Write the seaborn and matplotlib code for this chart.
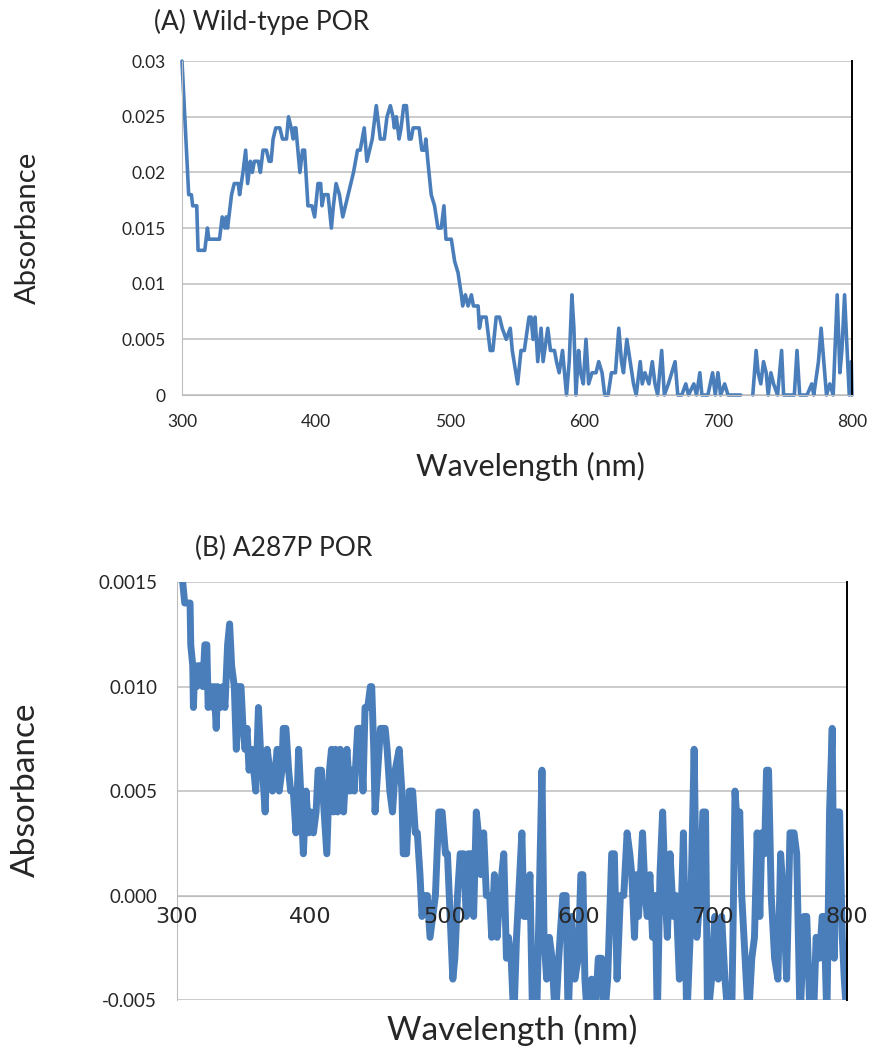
import numpy as np
import pandas as pd
import seaborn as sns
import matplotlib.pyplot as plt

BLUE = '#4a7ebb'
GRID = '#bdbdbd'

# (A) Wild-type POR: wavelength (nm) and absorbance, None = no reading
wl_a = [300, 305, 307, 308, 311, 312, 317, 319, 320, 328, 330, 332, 333, 334, 337, 339,
        342, 343, 345.5, 347.5, 349, 351, 352.5, 354, 357, 358.5, 360.5, 363, 365, 366.5,
        368, 370, 373, 375, 378, 379.5, 381.5, 383, 384, 385, 386.5, 388, 390, 391.5, 394,
        397, 399, 401.5, 403.5, 404.5, 406, 409, 411.5, 413, 415, 417.5, 420, 422, 424,
        426, 428, 429.5, 431, 433, 434.5, 436, 438, 440, 442, 443, 445, 446, 448, 451,
        453, 455.5, 457.5, 458.5, 460, 461, 462, 463.5, 465.5, 467.5, 469.5, 471, 472.5,
        477, 479, 481, 482, 483.5, 486, 488.5, 491, 493.5, 495.5, 497, 501, 503.5, 506,
        508.5, 509.5, 511.5, 513.5, 516, 517.5, 521, 522, 523.5, 527, 530, 532, 534.5,
        537, 539, 542, 545, 546.5, 550.5, 553, 555.5, 559, 560.5, 562, 563.5, 565.5, 568,
        569.5, 573, 575, 578, 579.5, 581.5, 584, 587, 589, 591, 592.5, 594, 596, 597.5,
        599.5, 601.5, 603.5, 606, 609, 611, 613.5, 615.5, 618, 620.5, 623.5, 626, 628,
        629.5, 632, 634.5, 637, 639, 642, 643.5, 645.5, 648.5, 651, 653, 655, 658, 660,
        663, 665.5, 668, 670, 673, 676, 678, 682, 684, 686.5, 688, 692.5, 696, 698, 700,
        702, 705, 707.5, 712, 717, 721, 726, 728.5, 730, 732, 734, 736, 737.5, 739.5,
        741.5, 744.5, 747.5, 749, 753, 757, 759, 761, 766.5, 770, 771.5, 775, 777, 779,
        781, 783.5, 786, 789, 791, 792.5, 794.5, 796, 798, 799.5, 800]
abs_a = [0.030, 0.018, 0.018, 0.017, 0.017, 0.013, 0.013, 0.015, 0.014, 0.014, 0.016,
         0.015, 0.016, 0.015, 0.018, 0.019, 0.019, 0.018, 0.020, 0.022, 0.019, 0.021,
         0.020, 0.021, 0.021, 0.020, 0.022, 0.022, 0.021, 0.021, 0.023, 0.024, 0.024,
         0.023, 0.023, 0.025, 0.024, 0.023, 0.024, 0.024, 0.022, 0.020, 0.022, 0.022,
         0.017, 0.017, 0.016, 0.019, 0.019, 0.017, 0.018, 0.018, 0.015, 0.017, 0.019,
         0.018, 0.016, 0.017, 0.018, 0.019, 0.020, 0.021, 0.022, 0.022, 0.023, 0.024,
         0.021, 0.022, 0.023, 0.024, 0.026, 0.025, 0.023, 0.023, 0.025, 0.026, 0.025,
         0.024, 0.025, 0.024, 0.023, 0.024, 0.026, 0.026, 0.023, 0.023, 0.024, 0.024,
         0.022, 0.022, 0.023, 0.021, 0.018, 0.017, 0.015, 0.015, 0.017, 0.014, 0.014,
         0.012, 0.011, 0.009, 0.008, 0.009, 0.008, 0.009, 0.008, 0.008, 0.006, 0.007,
         0.007, 0.004, 0.004, 0.007, 0.007, 0.006, 0.005, 0.006, 0.004, 0.001, 0.004,
         0.004, 0.007, 0.007, 0.005, 0.007, 0.003, 0.006, 0.003, 0.006, 0.004, 0.004,
         0.003, 0.002, 0.004, 0.000, 0.003, 0.009, 0.006, 0.000, 0.004, 0.002, 0.001,
         0.005, 0.001, 0.002, 0.002, 0.003, 0.002, 0.000, 0.000, 0.002, 0.002, 0.006,
         0.003, 0.002, 0.005, 0.003, 0.001, 0.000, 0.003, 0.001, 0.002, 0.001, 0.003,
         0.001, 0.000, 0.004, 0.000, 0.001, 0.002, 0.003, 0.000, 0.000, 0.001, 0.000,
         0.001, 0.000, 0.002, 0.000, 0.000, 0.002, 0.000, 0.002, 0.000, 0.001, 0.000,
         0.000, 0.000, None, 0.000, 0.004, 0.002, 0.001, 0.003, 0.002, 0.000, 0.002,
         0.001, 0.000, 0.004, 0.000, 0.000, 0.000, 0.004, 0.000, 0.000, 0.001, 0.000,
         0.003, 0.006, 0.003, 0.000, 0.001, 0.000, 0.009, 0.002, 0.004, 0.009, 0.005,
         0.000, 0.003, 0.000]

# (B) A287P POR
wl_b = [303, 306, 310, 310.5, 312, 312.5, 313.5, 315, 316, 318, 319.5, 321, 322.5, 323.5,
        325.5, 327, 328, 329.5, 330.5, 332.5, 334.5, 336, 338, 339.5, 341, 343, 344.5,
        346, 348, 349.5, 351, 352.5, 354, 356, 357.5, 359, 361, 362.5, 364, 366, 367.5,
        369.5, 371.5, 373.5, 375, 376.5, 378.5, 379.5, 381.5, 383.5, 385, 387, 389, 391,
        392.5, 394.5, 396.5, 398.5, 400, 402, 404, 405.5, 408, 410, 412, 414, 415.5, 417,
        418.5, 420, 422, 424.5, 427, 429, 430.5, 432.5, 435, 437, 439, 440.5, 442.5, 444.5,
        445.5, 447, 448, 450, 452, 455.5, 457, 459, 461, 463, 466, 468, 469, 471.5, 473.5,
        476, 478, 479.5, 481.5, 483, 485.5, 487, 489, 491, 493, 495.5, 498, 500.5, 502,
        504, 506, 507.5, 509.5, 511.5, 514, 516, 517.5, 520, 521.5, 523.5, 525, 527, 529,
        531, 533.5, 535, 537, 539, 541, 544, 546, 547.5, 549.5, 551.5, 553.5, 557.5, 559,
        561.5, 563.5, 565.5, 568.5, 572.5, 574, 576, 578, 580, 582.5, 585, 588, 590.5,
        592, 594.5, 597, 599.5, 601.5, 603, 604.5, 606.5, 609.5, 612, 614.5, 617, 619,
        621.5, 624.5, 626.5, 628.5, 631, 633.5, 636, 638, 639.5, 641.5, 643, 644.5, 647.5,
        649.5, 651, 653, 655, 657, 658.5, 660.5, 662.5, 664.5, 666, 668, 670.5, 672.5,
        675, 678, 680.5, 683, 686, 688, 690.5, 692.5, 694.5, 696, 699, 701.5, 704, 706.5,
        709, 711.5, 714, 716.5, 718.5, 720, 721.5, 724, 726.5, 729, 731, 733, 735, 736.5,
        738.5, 740, 741.5, 743.5, 746, 748.5, 750.5, 752.5, 755, 757.5, 760.5, 762.5, 765,
        768, 770, 772.5, 775, 777, 779.5, 781.5, 783, 785, 787, 789, 790.5, 792.5, 794.5,
        796.5, 798, 800]
abs_b = [0.016, 0.014, 0.014, 0.012, 0.011, 0.009, 0.011, 0.010, 0.011, 0.011, 0.010,
         0.012, 0.012, 0.009, 0.010, 0.009, 0.010, 0.008, 0.010, 0.009, 0.010, 0.009,
         0.012, 0.013, 0.011, 0.010, 0.007, 0.010, 0.010, 0.008, 0.007, 0.008, 0.006,
         0.007, 0.006, 0.005, 0.009, 0.007, 0.006, 0.004, 0.007, 0.006, 0.005, 0.006,
         0.007, 0.005, 0.006, 0.008, 0.008, 0.006, 0.005, 0.005, 0.003, 0.007, 0.005,
         0.002, 0.005, 0.003, 0.004, 0.003, 0.004, 0.006, 0.006, 0.004, 0.002, 0.006,
         0.007, 0.004, 0.007, 0.004, 0.007, 0.004, 0.007, 0.005, 0.006, 0.005, 0.008,
         0.008, 0.005, 0.009, 0.009, 0.010, 0.010, 0.007, 0.004, 0.006, 0.008, 0.008,
         0.007, 0.005, 0.004, 0.006, 0.007, 0.005, 0.002, 0.002, 0.005, 0.005, 0.003,
         0.003, 0.001, -0.001, 0.000, 0.000, -0.002, -0.001, 0.000, 0.004, 0.004, 0.002,
         0.002, -0.001, -0.004, -0.003, 0.000, 0.002, 0.002, -0.001, 0.002, 0.002,
         -0.001, 0.004, 0.003, 0.001, 0.003, 0.000, 0.000, -0.002, 0.001, -0.002, 0.000,
         0.002, -0.003, -0.002, -0.003, -0.006, -0.002, 0.003, -0.001, -0.001, 0.001,
         -0.006, -0.006, 0.006, -0.002, -0.004, -0.002, -0.003, -0.006, -0.003, 0.000,
         0.000, -0.006, -0.001, -0.004, -0.003, 0.001, 0.001, -0.004, -0.006, -0.004,
         -0.006, -0.003, -0.003, -0.006, -0.004, 0.002, 0.002, -0.004, 0.000, 0.000,
         0.003, 0.002, 0.001, -0.002, 0.001, -0.001, 0.003, 0.000, -0.001, 0.001, -0.002,
         0.000, -0.006, 0.001, 0.004, 0.000, -0.002, 0.002, -0.001, 0.000, -0.004, 0.003,
         -0.006, -0.002, 0.007, -0.002, 0.000, 0.004, 0.004, -0.006, -0.004, -0.001,
         -0.004, -0.001, -0.004, -0.006, -0.006, 0.005, 0.003, 0.004, 0.000, -0.003,
         -0.006, -0.003, -0.002, 0.003, -0.001, 0.003, 0.002, 0.006, 0.006, 0.000, -0.003,
         -0.004, 0.002, 0.000, -0.004, 0.003, 0.003, 0.002, -0.006, -0.001, -0.001,
         -0.006, -0.006, -0.002, -0.003, -0.001, -0.001, -0.006, 0.004, 0.008, -0.003,
         0.004, 0.004, -0.002, -0.004, -0.006]

xticks = [300, 400, 500, 600, 700, 800]
yticks_a = [0, 0.005, 0.01, 0.015, 0.02, 0.025, 0.03]
ylabels_a = ['0', '0.005', '0.01', '0.015', '0.02', '0.025', '0.03']
yticks_b = [-0.005, 0.0, 0.005, 0.010, 0.015]
ylabels_b = ['-0.005', '0.000', '0.005', '0.010', '0.0015']

sns.set_style('white')
plt.rcParams['font.family'] = ['Lato', 'DejaVu Sans']

fig = plt.figure(figsize=(8.72, 10.5), dpi=100)
ax_a = fig.add_axes([0.2087, 0.6238, 0.7683, 0.318])
ax_b = fig.add_axes([0.2026, 0.0476, 0.7687, 0.398])

# panel A: split at the missing reading so the gap stays open
df_a = pd.DataFrame({'wl': wl_a, 'absorb': pd.to_numeric(pd.Series(abs_a), errors='coerce')})
df_a['seg'] = df_a['absorb'].isna().cumsum()
df_a = df_a.dropna()
sns.lineplot(data=df_a, x='wl', y='absorb', units='seg', estimator=None,
             color=BLUE, lw=2.6, ax=ax_a, zorder=2, clip_on=False)

df_b = pd.DataFrame({'wl': wl_b, 'absorb': abs_b})
sns.lineplot(data=df_b, x='wl', y='absorb', color=BLUE, lw=5.0, ax=ax_b, zorder=2)

for ax, yt, yl in [(ax_a, yticks_a, ylabels_a), (ax_b, yticks_b, ylabels_b)]:
    ax.set_axisbelow(False)
    ax.grid(False)
    for y in yt:
        ax.axhline(y, color=GRID, lw=1.1, zorder=1)
    ax.set_xlim(300, 800)
    ax.set_ylim(yt[0], yt[-1])
    ax.set_xticks(xticks)
    ax.set_yticks(yt)
    ax.set_yticklabels(yl)
    ax.set_xlabel('')
    ax.set_ylabel('')
    ax.spines['top'].set_visible(False)
    ax.spines['left'].set_color(GRID)
    ax.spines['bottom'].set_color(GRID)
    ax.spines['right'].set_color('black')
    ax.spines['right'].set_linewidth(1.4)
    ax.tick_params(axis='both', direction='out', length=6, width=1, color=GRID)

ax_a.tick_params(axis='y', labelsize=12.5, pad=6)
ax_a.tick_params(axis='x', labelsize=12.5, pad=8)

ax_b.spines['bottom'].set_position(('data', 0))
ax_b.spines['bottom'].set_zorder(1)
ax_b.tick_params(axis='y', labelsize=13.5, pad=8)
ax_b.tick_params(axis='x', labelsize=16, pad=2)
for lab in ax_b.get_xticklabels():
    lab.set_fontfamily('DejaVu Sans')

# titles and axis captions
fig.text(262 / 872, 1 - 22 / 1050, '(A) Wild-type POR', fontsize=19, ha='center', va='center')
fig.text(530 / 872, 1 - 466 / 1050, 'Wavelength (nm)', fontsize=22, ha='center', va='center')
fig.text(28 / 872, 1 - 228 / 1050, 'Absorbance', fontsize=21, rotation=90, ha='center', va='center')
fig.text(284 / 872, 1 - 548 / 1050, '(B) A287P POR', fontsize=19, ha='center', va='center')
fig.text(512 / 872, 1 - 1030 / 1050, 'Wavelength (nm)', fontsize=24, ha='center', va='center')
fig.text(26 / 872, 1 - 790 / 1050, 'Absorbance', fontsize=24, rotation=90, ha='center', va='center')

fig.savefig('out.png', dpi=100)
